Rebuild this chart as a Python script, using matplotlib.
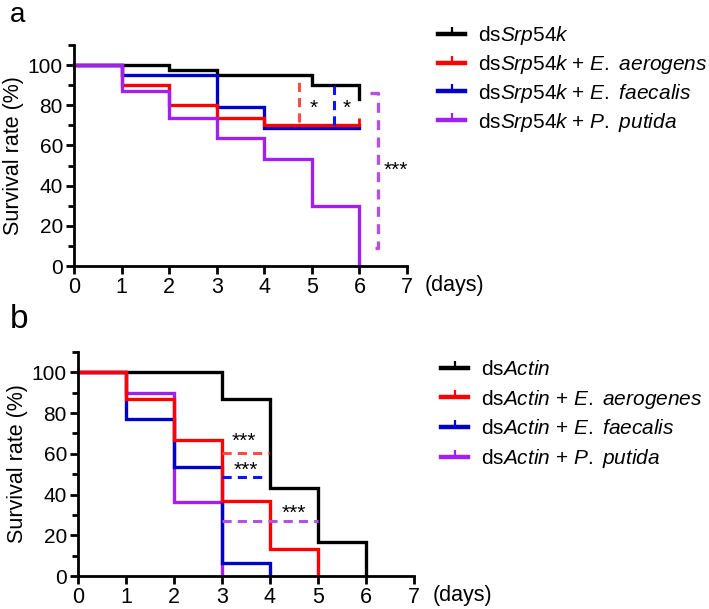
import matplotlib
matplotlib.use("Agg")
import matplotlib.pyplot as plt
from matplotlib.lines import Line2D
from matplotlib.ticker import MultipleLocator

plt.rcParams['font.family'] = ['Liberation Sans', 'DejaVu Sans']
plt.rcParams['mathtext.fontset'] = 'custom'
plt.rcParams['mathtext.rm'] = 'Liberation Sans'
plt.rcParams['mathtext.it'] = 'Liberation Sans:italic'

# ---------------- data: panel a ----------------
a_labels = [r"ds$\mathit{Srp54k}$",
            r"ds$\mathit{Srp54k}$ + $\mathit{E.\ aerogens}$",
            r"ds$\mathit{Srp54k}$ + $\mathit{E.\ faecalis}$",
            r"ds$\mathit{Srp54k}$ + $\mathit{P.\ putida}$"]
a_black_t = [0, 2, 3, 5, 6]
a_black_v = [100, 97.5, 95, 90, 83]
a_red_t = [0, 1, 2, 3, 4, 6]
a_red_v = [100, 90, 80, 73.5, 70, 70]
a_blue_t = [0, 1, 3, 4, 6]
a_blue_v = [100, 95, 79, 68.5, 68.5]
a_purple_t = [0, 1, 2, 3, 4, 5, 6]
a_purple_v = [100, 87, 73.5, 63.5, 53.5, 30, 0]

# ---------------- data: panel b ----------------
b_labels = [r"ds$\mathit{Actin}$",
            r"ds$\mathit{Actin}$ + $\mathit{E.\ aerogenes}$",
            r"ds$\mathit{Actin}$ + $\mathit{E.\ faecalis}$",
            r"ds$\mathit{Actin}$ + $\mathit{P.\ putida}$"]
b_black_t = [0, 3, 4, 5, 6]
b_black_v = [100, 87, 43, 16.5, 0]
b_red_t = [0, 1, 2, 3, 4, 5]
b_red_v = [100, 87, 67, 37, 13.5, 0]
b_blue_t = [0, 1, 2, 3, 4]
b_blue_v = [100, 77, 53.5, 6.5, 0]
b_purple_t = [0, 1, 2, 3]
b_purple_v = [100, 90, 36.5, 0]

# significance annotations
a_sig_red = dict(x=4.74, y0=71.5, y1=93.5, sx=5.03, sy=78.5, text="*")
a_sig_blue = dict(x=5.46, y0=70, y1=89.5, sx=5.74, sy=78.5, text="*")
a_sig_purple = dict(x=6.39, xl=6.22, y0=9, y1=86, sx=6.51, sy=47.5, text="***")
b_sig_red = dict(y=60.5, x0=3.0, x1=3.97, sx=3.45, sy=66, text="***")
b_sig_blue = dict(y=48.5, x0=3.0, x1=3.88, sx=3.5, sy=52, text="***")
b_sig_purple = dict(y=27, x0=3.0, x1=5.0, sx=4.5, sy=31, text="***")

C_BLACK = "#000000"
C_RED = "#ff0000"
C_BLUE = "#0000c8"
C_PURPLE = "#a020f0"
C_RED_D = "#ff4a4a"
C_BLUE_D = "#0a14ff"
C_PURPLE_D = "#b450e6"

W, H = 709, 609
fig = plt.figure(figsize=(W / 100, H / 100), dpi=100)

ax_a = fig.add_axes([74 / W, 1 - 266 / H, 333 / W, 221 / H])
ax_b = fig.add_axes([78 / W, 1 - 576 / H, 336 / W, 224 / H])

LW = 2.4


def style(ax):
    ax.set_xlim(0, 7)
    ax.set_ylim(0, 110)
    for s in ['top', 'right']:
        ax.spines[s].set_visible(False)
    for s in ['left', 'bottom']:
        ax.spines[s].set_linewidth(2.0)
    ax.xaxis.set_major_locator(MultipleLocator(1))
    ax.set_yticks([0, 20, 40, 60, 80, 100])
    ax.set_yticks([10, 30, 50, 70, 90, 110], minor=True)
    ax.tick_params(axis='both', which='major', direction='out', length=6, width=2.0)
    ax.tick_params(axis='y', which='minor', direction='out', length=4, width=2.0)
    ax.tick_params(axis='y', labelsize=15, pad=2)
    ax.tick_params(axis='x', labelsize=15.5, pad=2)
    ax.set_ylabel("Survival rate (%)", fontsize=15.5, labelpad=3)
    ax.text(7.38, -0.04, "(days)", transform=ax.get_xaxis_transform(),
            fontsize=15.5, ha='left', va='top')


def step(ax, t, v, c):
    ax.step(t, v, where='post', color=c, lw=LW, solid_joinstyle='miter', clip_on=False)


style(ax_a)
step(ax_a, a_black_t, a_black_v, C_BLACK)
step(ax_a, a_blue_t, a_blue_v, C_BLUE)
step(ax_a, a_red_t, a_red_v, C_RED)
step(ax_a, a_purple_t, a_purple_v, C_PURPLE)
ax_a.plot([a_red_t[-1]], [a_red_v[-1]], marker=2, ms=5, mew=2, color=C_RED)

STAR_FS = 15
for d, c in [(a_sig_red, C_RED_D), (a_sig_blue, C_BLUE_D)]:
    ax_a.plot([d['x'], d['x']], [d['y0'], d['y1']], color=c, lw=2.2, ls=(0, (3, 2)))
    ax_a.text(d['sx'], d['sy'], d['text'], ha='center', va='center', fontsize=STAR_FS)
d = a_sig_purple
ax_a.plot([d['xl'], d['x'], d['x'], d['xl']], [d['y1'], d['y1'], d['y0'], d['y0']],
          color=C_PURPLE_D, lw=2.4, ls=(0, (3, 2.2)), clip_on=False)
ax_a.text(d['sx'], d['sy'], d['text'], ha='left', va='center', fontsize=STAR_FS, clip_on=False)

style(ax_b)
step(ax_b, b_black_t, b_black_v, C_BLACK)
step(ax_b, b_purple_t, b_purple_v, C_PURPLE)
step(ax_b, b_blue_t, b_blue_v, C_BLUE)
step(ax_b, b_red_t, b_red_v, C_RED)

for d, c in [(b_sig_red, C_RED_D), (b_sig_blue, C_BLUE_D), (b_sig_purple, C_PURPLE_D)]:
    ax_b.plot([d['x0'], d['x1']], [d['y'], d['y']], color=c, lw=2.2, ls=(0, (3, 2)))
    ax_b.text(d['sx'], d['sy'], d['text'], ha='center', va='center', fontsize=STAR_FS)


def handles(colors):
    return [Line2D([0], [0], color=c, lw=3.2, marker=2, ms=5, mew=1.6)
            for c in colors]


cols = [C_BLACK, C_RED, C_BLUE, C_PURPLE]

leg_kw = dict(frameon=False, fontsize=15, handlelength=1.3, handletextpad=0.6,
              borderpad=0, borderaxespad=0, loc='upper left', numpoints=1)
fig.legend(handles(cols), a_labels, bbox_to_anchor=(438 / W, 1 - 24 / H),
           labelspacing=0.28, **leg_kw)
fig.legend(handles(cols), b_labels, bbox_to_anchor=(441 / W, 1 - 360 / H),
           labelspacing=0.42, **leg_kw)

fig.text(10 / W, 1 - 22 / H, "a", fontsize=20, ha='left', va='baseline')
fig.text(10 / W, 1 - 328 / H, "b", fontsize=24, ha='left', va='baseline')

fig.savefig("out.png", dpi=100)
